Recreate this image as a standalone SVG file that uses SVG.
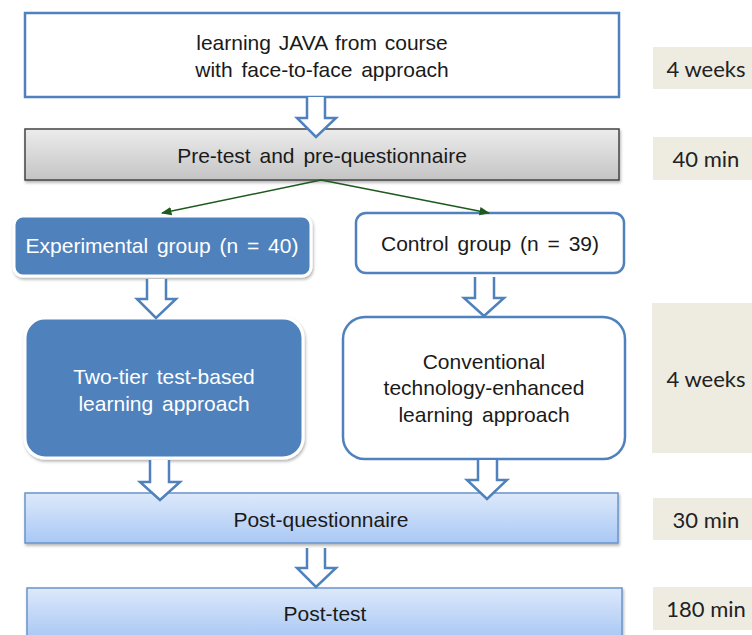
<svg xmlns="http://www.w3.org/2000/svg" width="752" height="635" viewBox="0 0 752 635">
<defs>
<linearGradient id="gray" x1="0" y1="0" x2="0" y2="1"><stop offset="0" stop-color="#ececec"/><stop offset="1" stop-color="#c4c4c4"/></linearGradient>
<linearGradient id="blue" x1="0" y1="0" x2="0" y2="1"><stop offset="0" stop-color="#dde9fb"/><stop offset="1" stop-color="#a9c8f4"/></linearGradient>
<filter id="sh" x="-10%" y="-10%" width="120%" height="130%"><feDropShadow dx="1" dy="2" stdDeviation="1.5" flood-color="#000" flood-opacity="0.3"/></filter>
<marker id="ah" viewBox="0 0 10 10" refX="9" refY="5" markerWidth="7" markerHeight="7" orient="auto"><path d="M0,1 L10,5 L0,9 z" fill="#1e5a1e"/></marker>
<style>
text{font-family:"Liberation Sans",Arial,sans-serif;font-size:21px;fill:#1a1a1a;text-anchor:middle}
.w{fill:#fff}
.side text{font-family:Lato,"Open Sans",sans-serif;font-size:22px;fill:#222}
.side rect{fill:#eeece1}
.barrow{fill:#fff;stroke:#4f81bd;stroke-width:2.5;stroke-linejoin:miter}
.bl{fill:#fff;stroke:#4f81bd;stroke-width:2.5}
.bf{fill:#4f81bd;stroke:#fff;stroke-width:3;filter:url(#sh)}
</style>
</defs>
<g id="start"><rect x="25" y="13" width="594" height="84" fill="#fff" stroke="#4f81bd" stroke-width="2.5"/><text x="322" y="50" word-spacing="2">learning  JAVA from course</text><text x="322" y="77" word-spacing="3">with face-to-face approach</text></g>
<g id="pretest"><rect x="25" y="129" width="594" height="51" fill="url(#gray)" stroke="#444" stroke-width="1.5" filter="url(#sh)"/><text x="322" y="163" word-spacing="3">Pre-test and pre-questionnaire</text></g>
<g id="exp"><rect x="14" y="216" width="297" height="60" rx="9" class="bf"/><text class="w" x="162" y="253" word-spacing="3">Experimental group (n = 40)</text></g>
<g id="ctrl"><rect x="356" y="213" width="268" height="60" rx="10" class="bl"/><text x="490" y="251" word-spacing="3">Control group (n = 39)</text></g>
<g id="twotier"><rect x="25" y="318" width="278" height="140" rx="20" class="bf"/><text class="w" x="164" y="384" word-spacing="3">Two-tier test-based</text><text class="w" x="164" y="411" word-spacing="3">learning approach</text></g>
<g id="conv"><rect x="343" y="317" width="282" height="142" rx="22" class="bl"/><text x="484" y="369">Conventional</text><text x="484" y="395">technology-enhanced</text><text x="484" y="422" word-spacing="3">learning approach</text></g>
<g id="postq"><rect x="25" y="493" width="593" height="50" fill="url(#blue)" stroke="#6a94cc" stroke-width="1.5" filter="url(#sh)"/><text x="321" y="527">Post-questionnaire</text></g>
<g id="posttest"><rect x="27" y="588" width="595" height="50" fill="url(#blue)" stroke="#6a94cc" stroke-width="1.5" filter="url(#sh)"/><text x="325" y="621">Post-test</text></g>
<g class="side">
<g id="t1"><rect x="653" y="47" width="99" height="42"/><text x="706" y="77">4 weeks</text></g>
<g id="t2"><rect x="653" y="137" width="99" height="43"/><text x="706" y="167">40 min</text></g>
<g id="t3"><rect x="652" y="303" width="100" height="150"/><text x="706" y="387">4 weeks</text></g>
<g id="t4"><rect x="653" y="498" width="99" height="42"/><text x="706" y="528">30 min</text></g>
<g id="t5"><rect x="653" y="587" width="99" height="43"/><text x="706" y="617">180 min</text></g>
</g>
<g id="connectors">
<path class="barrow" d="M307,97 V118 H297 L316,137 L336,118 H325 V97"/>
<line x1="321" y1="180" x2="162" y2="213" stroke="#1e5a1e" stroke-width="1.5" marker-end="url(#ah)"/>
<line x1="321" y1="180" x2="489" y2="213" stroke="#1e5a1e" stroke-width="1.5" marker-end="url(#ah)"/>
<path class="barrow" d="M147,279 V299 H137 L156,318 L176,299 H166 V279"/>
<path class="barrow" d="M475,277 V298 H464 L484,316 L504,298 H494 V277"/>
<path class="barrow" d="M150,460 V482 H140 L160,500 L180,482 H169 V460"/>
<path class="barrow" d="M478,460 V480 H467 L487,499 L507,480 H497 V460"/>
<path class="barrow" d="M307,548 V568 H297 L316,587 L336,568 H325 V548"/>
</g>
</svg>
